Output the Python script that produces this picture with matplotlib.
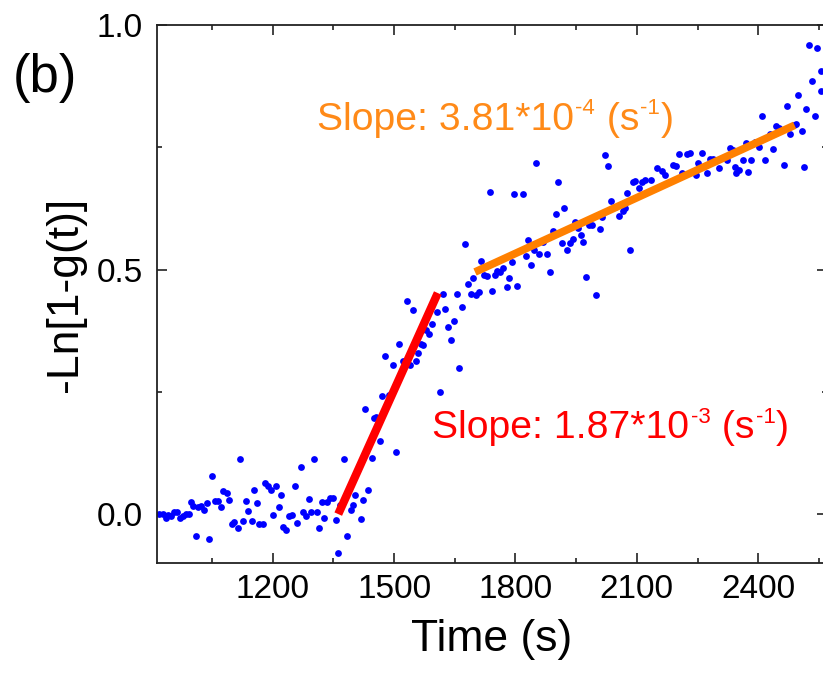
import matplotlib
matplotlib.use("Agg")
import matplotlib.pyplot as plt
from matplotlib.ticker import MultipleLocator

plt.rcParams['font.family'] = ['Liberation Sans', 'DejaVu Sans']

# ---- data ----
time_s = [
    920, 930, 936, 942, 948, 955, 963, 971, 978, 986, 992, 997, 1004, 1011, 1016, 1023,
    1030, 1037, 1043, 1051, 1057, 1066, 1071, 1078, 1086, 1091, 1099, 1104, 1113, 1119,
    1126, 1134, 1140, 1148, 1154, 1160, 1167, 1175, 1181, 1189, 1195, 1200, 1208, 1215,
    1221, 1226, 1233, 1240, 1248, 1254, 1261, 1269, 1274, 1282, 1289, 1295, 1302, 1309,
    1315, 1322, 1328, 1333, 1342,
    1348, 1356, 1362, 1366, 1376, 1383, 1393, 1399, 1404, 1417, 1422, 1429, 1436, 1445,
    1450, 1455, 1465, 1471, 1478, 1488, 1498, 1505, 1512, 1523, 1533, 1539, 1546, 1554,
    1560, 1566, 1572, 1580, 1586, 1593, 1607, 1613, 1620, 1627, 1634, 1641, 1648, 1655,
    1661, 1669, 1682, 1689, 1696,
    1675, 1702, 1710, 1716, 1722, 1730, 1737, 1743, 1749, 1755, 1762, 1770, 1778, 1785,
    1792, 1797, 1804, 1818, 1825, 1832, 1838, 1846, 1851, 1858, 1868, 1879, 1885, 1893,
    1900, 1906, 1914, 1921, 1928, 1935, 1941, 1948, 1955, 1962, 1968, 1975, 1982, 1990,
    2000, 2009, 2015, 2021, 2028, 2035, 2045, 2057, 2065, 2071, 2076, 2083, 2090, 2095,
    2105, 2112, 2120,
    2136, 2150, 2161, 2169, 2190, 2197, 2205, 2211, 2223, 2231, 2246, 2252, 2260, 2274,
    2281, 2287, 2304, 2323, 2330, 2337, 2342, 2346, 2353, 2363, 2370, 2375, 2383, 2392,
    2402, 2410, 2416, 2429, 2437, 2444, 2452, 2464, 2472, 2478, 2488, 2493, 2499, 2507,
    2513, 2519, 2526, 2534, 2540, 2546, 2554, 2556,
]
neg_ln = [
    0.000, 0.000, -0.009, -0.002, -0.004, 0.005, 0.005, -0.007, -0.004, 0.001, 0.001, 0.025,
    0.016, -0.044, 0.015, 0.016, 0.008, 0.022, -0.051, 0.078, 0.027, 0.027, 0.015, 0.047,
    0.044, 0.029, -0.021, -0.016, -0.028, 0.112, -0.014, 0.027, 0.007, -0.014, 0.049, 0.023,
    -0.020, -0.021, 0.063, 0.057, 0.049, -0.002, 0.057, 0.015, 0.040, -0.026, -0.033, -0.003,
    -0.001, 0.057, -0.019, 0.096, 0.005, -0.004, 0.031, 0.004, 0.112, 0.004, -0.028, 0.025,
    -0.008, 0.025, 0.033,
    0.032, -0.012, -0.080, 0.018, 0.112, -0.045, 0.008, 0.018, 0.039, -0.011, 0.029, 0.214,
    0.049, 0.114, 0.196, 0.199, 0.150, 0.241, 0.323, 0.243, 0.305, 0.127, 0.347, 0.314,
    0.436, 0.305, 0.417, 0.314, 0.329, 0.348, 0.346, 0.376, 0.368, 0.389, 0.414, 0.250,
    0.450, 0.419, 0.383, 0.356, 0.395, 0.450, 0.298, 0.424, 0.470, 0.450, 0.482,
    0.552, 0.448, 0.455, 0.518, 0.489, 0.487, 0.658, 0.457, 0.489, 0.498, 0.494, 0.504,
    0.464, 0.482, 0.516, 0.654, 0.466, 0.654, 0.528, 0.560, 0.509, 0.539, 0.718, 0.531,
    0.556, 0.531, 0.496, 0.579, 0.613, 0.678, 0.554, 0.625, 0.540, 0.555, 0.562, 0.598,
    0.584, 0.570, 0.557, 0.484, 0.591, 0.591, 0.448, 0.582, 0.607, 0.734, 0.712, 0.641,
    0.628, 0.609, 0.620, 0.625, 0.656, 0.540, 0.678, 0.682, 0.666, 0.680, 0.684,
    0.684, 0.707, 0.702, 0.693, 0.714, 0.712, 0.736, 0.698, 0.736, 0.738, 0.693, 0.717,
    0.738, 0.698, 0.727, 0.727, 0.707, 0.724, 0.748, 0.744, 0.709, 0.698, 0.703, 0.725,
    0.758, 0.700, 0.725, 0.761, 0.751, 0.814, 0.725, 0.778, 0.746, 0.793, 0.789, 0.714,
    0.835, 0.778, 0.795, 0.798, 0.857, 0.783, 0.710, 0.828, 0.959, 0.886, 0.813, 0.952,
    0.905, 0.866,
]

fit1_x = [1362, 1608]
fit1_y = [0.000, 0.452]
fit2_x = [1700, 2490]
fit2_y = [0.495, 0.795]

slope1_parts = [('Slope: 1.87*10', False), ('-3', True), (' (s', False), ('-1', True), (')', False)]
slope2_parts = [('Slope: 3.81*10', False), ('-4', True), (' (s', False), ('-1', True), (')', False)]

xticks = [1200, 1500, 1800, 2100, 2400]
yticks = [0.0, 0.5, 1.0]
ytick_labels = ['0.0', '0.5', '1.0']

RED = '#FF0000'
ORANGE = '#FF8000'
ORANGE_TXT = '#FF8A18'
BLUE = '#0000FF'


def rich_text(ax, x, y, parts, color, size=28.2, sup_size=16, sup_raise=13.5):
    first = ax.text(x, y, parts[0][0], color=color, fontsize=size,
                    va='baseline', ha='left')
    prev = first
    for txt, sup in parts[1:]:
        if sup:
            prev = ax.annotate(txt, xy=(1, 0), xycoords=(prev, first),
                               xytext=(1.0, sup_raise), textcoords='offset points',
                               color=color, fontsize=sup_size, va='bottom', ha='left')
        else:
            prev = ax.annotate(txt, xy=(1, 0), xycoords=(prev, first),
                               xytext=(0.5, 0), textcoords='offset points',
                               color=color, fontsize=size, va='bottom', ha='left')
    return first


W, H = 823, 681
fig = plt.figure(figsize=(W / 100, H / 100), dpi=100)
ax = fig.add_axes([157 / W, (H - 563) / H, (827 - 157) / W, (563 - 25) / H])

ax.plot(time_s, neg_ln, 'o', color=BLUE, markersize=4.9, markeredgewidth=0, zorder=2)
ax.plot(fit1_x, fit1_y, color=RED, lw=6.0, solid_capstyle='butt', zorder=3)
ax.plot(fit2_x, fit2_y, color=ORANGE, lw=5.6, solid_capstyle='butt', zorder=3)

rich_text(ax, 1309, 0.785, slope2_parts, ORANGE_TXT)
rich_text(ax, 1594, 0.155, slope1_parts, RED)

ax.set_xlim(914, 2570)
ax.set_ylim(-0.1, 1.0)
ax.set_xticks(xticks)
ax.set_yticks(yticks)
ax.set_yticklabels(ytick_labels)
ax.xaxis.set_minor_locator(MultipleLocator(150))
ax.yaxis.set_minor_locator(MultipleLocator(0.25))
ax.tick_params(which='both', direction='in', top=True, right=True, width=1.2, colors='#222222')
ax.tick_params(which='major', length=7.2)
ax.tick_params(which='minor', length=3.6)
ax.tick_params(axis='x', which='major', labelsize=24, pad=8, labelcolor='black')
ax.tick_params(axis='y', which='major', labelsize=24, pad=10, labelcolor='black')
for s in ax.spines.values():
    s.set_linewidth(1.3)
    s.set_color('#222222')

ax.set_xlabel('Time (s)', fontsize=32, labelpad=10)
ax.set_ylabel('-Ln[1-g(t)]', fontsize=32, labelpad=8)

fig.text(45 / W, (H - 78) / H, '(b)', fontsize=38, ha='center', va='center')

fig.savefig('out.png', dpi=100)
